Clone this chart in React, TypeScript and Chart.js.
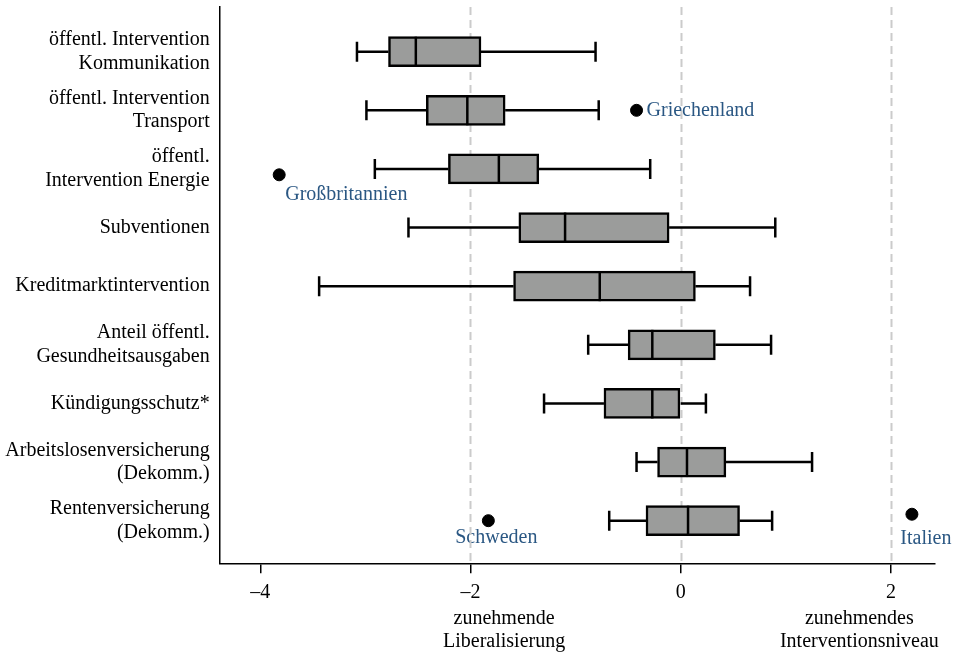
import React, { useEffect, useRef } from "react";
import { Chart, registerables } from "chart.js";

Chart.register(...registerables);

// ---- data ----
const categories: (string | string[])[] = [
  ["öffentl. Intervention", "Kommunikation"],
  ["öffentl. Intervention", "Transport"],
  ["öffentl.", "Intervention Energie"],
  "Subventionen",
  "Kreditmarktintervention",
  ["Anteil öffentl.", "Gesundheitsausgaben"],
  "Kündigungsschutz*",
  ["Arbeitslosenversicherung", "(Dekomm.)"],
  ["Rentenversicherung", "(Dekomm.)"],
];
const whiskerLow = [-3.08, -2.99, -2.91, -2.59, -3.44, -0.88, -1.30, -0.42, -0.68];
const q1 = [-2.78, -2.42, -2.21, -1.54, -1.59, -0.50, -0.73, -0.22, -0.33];
const median = [-2.52, -2.03, -1.73, -1.10, -0.77, -0.27, -0.27, 0.06, 0.07];
const q3 = [-1.90, -1.67, -1.35, -0.11, 0.14, 0.33, 0.0, 0.43, 0.56];
const whiskerHigh = [-0.81, -0.78, -0.29, 0.90, 0.66, 0.86, 0.24, 1.25, 0.87];

const outlierNames = ["Griechenland", "Großbritannien", "Schweden", "Italien"];
const outlierValues = [-0.42, -3.82, -1.83, 2.2];
const outlierRows = [2, 3.1, 9, 8.89];

const xTicks = [-4, -2, 0, 2];
const refLines = [-2, 0, 2];
const axisNotes: { at: number; lines: string[] }[] = [
  { at: -1.68, lines: ["zunehmende", "Liberalisierung"] },
  { at: 1.7, lines: ["zunehmendes", "Interventionsniveau"] },
];

// ---- styles / label placement (pixel offsets from the dot) ----
const labelPlacement = [
  { dx: 10, dy: 0, align: "left" },
  { dx: 6, dy: 20, align: "left" },
  { dx: 8, dy: 17, align: "center" },
  { dx: 14, dy: 25, align: "center" },
];
const FONT = "'Liberation Serif', 'Times New Roman', Times, serif";
const LABEL_BLUE = "#2a5783";
const LW = 2.5;

const boxPlugin = {
  id: "boxExtras",
  beforeDatasetsDraw(chart: any) {
    const { ctx, chartArea, scales } = chart;
    const xs = scales.x;
    const ys = scales.y;
    ctx.save();
    // outlier labels (drawn beneath the reference lines)
    ctx.font = `20px ${FONT}`;
    ctx.fillStyle = LABEL_BLUE;
    ctx.textBaseline = "middle";
    outlierNames.forEach((name, i) => {
      const px = xs.getPixelForValue(outlierValues[i]);
      const py = ys.getPixelForValue(outlierRows[i]);
      const p = labelPlacement[i];
      ctx.textAlign = p.align;
      ctx.fillText(name, px + p.dx, py + p.dy);
    });
    // dashed reference lines
    ctx.strokeStyle = "#cbcbcb";
    ctx.lineWidth = 2;
    ctx.setLineDash([8, 5]);
    refLines.forEach((v) => {
      const px = Math.round(xs.getPixelForValue(v)) + 0.5;
      ctx.beginPath();
      ctx.moveTo(px, chartArea.top);
      ctx.lineTo(px, chartArea.bottom);
      ctx.stroke();
    });
    ctx.setLineDash([]);
    // whiskers
    ctx.strokeStyle = "#000";
    ctx.lineWidth = LW;
    const cap = 10;
    for (let i = 0; i < categories.length; i++) {
      const y = ys.getPixelForValue(i + 1);
      const lo = xs.getPixelForValue(whiskerLow[i]);
      const a = xs.getPixelForValue(q1[i]);
      const b = xs.getPixelForValue(q3[i]);
      const hi = xs.getPixelForValue(whiskerHigh[i]);
      ctx.beginPath();
      ctx.moveTo(lo, y);
      ctx.lineTo(a, y);
      ctx.moveTo(b, y);
      ctx.lineTo(hi, y);
      ctx.moveTo(lo, y - cap);
      ctx.lineTo(lo, y + cap);
      ctx.moveTo(hi, y - cap);
      ctx.lineTo(hi, y + cap);
      ctx.stroke();
    }
    ctx.restore();
  },
  afterDatasetsDraw(chart: any) {
    const { ctx, scales } = chart;
    const xs = scales.x;
    const ys = scales.y;
    ctx.save();
    ctx.strokeStyle = "#000";
    ctx.lineWidth = LW;
    for (let i = 0; i < categories.length; i++) {
      const y = ys.getPixelForValue(i + 1);
      const m = xs.getPixelForValue(median[i]);
      ctx.beginPath();
      ctx.moveTo(m, y - 15);
      ctx.lineTo(m, y + 15);
      ctx.stroke();
    }
    // axis notes
    ctx.font = `20px ${FONT}`;
    ctx.fillStyle = "#000";
    ctx.textAlign = "center";
    ctx.textBaseline = "middle";
    const bottom = chart.chartArea.bottom;
    axisNotes.forEach((n) => {
      const px = xs.getPixelForValue(n.at);
      n.lines.forEach((line, k) => {
        ctx.fillText(line, px, bottom + 55 + k * 23.5);
      });
    });
    ctx.restore();
  },
};

export default function App() {
  const ref = useRef<HTMLCanvasElement | null>(null);
  useEffect(() => {
    if (!ref.current) return;
    const chart = new Chart(ref.current, {
      type: "bar",
      data: {
        datasets: [
          {
            type: "bar",
            data: categories.map((_, i) => ({ y: i + 1, x: [q1[i], q3[i]] })) as any,
            backgroundColor: "#9b9c9b",
            borderColor: "#000",
            borderWidth: LW,
            borderSkipped: false,
            barThickness: 30,
          } as any,
          {
            type: "scatter",
            data: outlierNames.map((_, i) => ({ x: outlierValues[i], y: outlierRows[i] })),
            backgroundColor: "#000",
            borderColor: "#000",
            pointRadius: 6,
            pointHoverRadius: 6,
          } as any,
        ],
      },
      options: {
        indexAxis: "y",
        animation: false,
        responsive: true,
        maintainAspectRatio: false,
        layout: { padding: { top: 7, right: 23.7, left: 0, bottom: 0 } },
        plugins: { legend: { display: false }, tooltip: { enabled: false } },
        scales: {
          x: {
            type: "linear",
            offset: false,
            min: -4.386,
            max: 2.413,
            afterBuildTicks: (s: any) => {
              s.ticks = xTicks.map((v) => ({ value: v }));
            },
            afterFit: (s: any) => {
              s.height = 90.7;
              s.paddingLeft = 0;
              s.paddingRight = 0;
            },
            grid: {
              display: true,
              offset: false,
              drawOnChartArea: false,
              drawTicks: true,
              tickLength: 10,
              color: "#000",
              lineWidth: 1.5,
            },
            border: { display: true, color: "#000", width: 1.5 },
            ticks: {
              padding: 7,
              color: "#000",
              font: { family: FONT, size: 20 },
              maxRotation: 0,
              autoSkip: false,
              callback: (v: any) => (Number(v) < 0 ? "–" + Math.abs(Number(v)) : String(v)),
            },
          },
          y: {
            type: "linear",
            offset: false,
            reverse: true,
            min: 0.2375,
            max: 9.727,
            beginAtZero: false,
            afterBuildTicks: (s: any) => {
              s.ticks = categories.map((_, i) => ({ value: i + 1 }));
            },
            afterFit: (s: any) => {
              s.width = 219.7;
              s.paddingTop = 0;
              s.paddingBottom = 0;
            },
            grid: { display: true, offset: false, drawOnChartArea: false, drawTicks: false },
            border: { display: true, color: "#000", width: 1.5 },
            ticks: {
              padding: 10,
              color: "#000",
              autoSkip: false,
              font: { family: FONT, size: 20, lineHeight: 1.18 },
              callback: (v: any) => categories[Number(v) - 1] as any,
            },
          },
        },
      } as any,
      plugins: [boxPlugin as any],
    });
    return () => chart.destroy();
  }, []);
  return (
    <div
      style={{
        position: "fixed",
        left: 0,
        top: 0,
        width: 958,
        height: 654,
        background: "#fff",
      }}
    >
      <canvas ref={ref} />
    </div>
  );
}
